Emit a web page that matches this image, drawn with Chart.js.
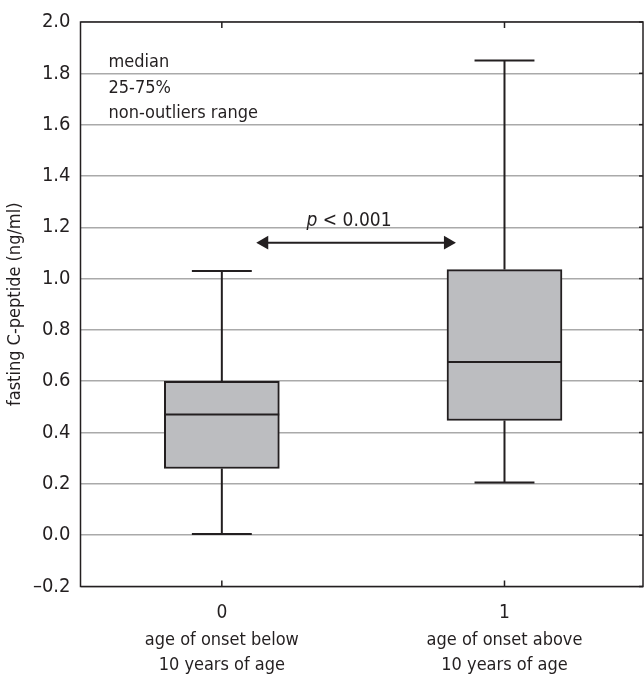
<!DOCTYPE html>
<html>
<head>
<meta charset="utf-8">
<script src="https://cdn.jsdelivr.net/npm/chart.js@4.4.1/dist/chart.umd.min.js"></script>
<style>
html, body { margin: 0; padding: 0; background: #fff; }
#wrap { width: 644px; height: 675px; position: relative; }
</style>
</head>
<body>
<div id="wrap"><canvas id="myChart"></canvas></div>
<script>
// data
var groups = [0, 1];
var groupNames = [['age of onset below', '10 years of age'], ['age of onset above', '10 years of age']];
var whiskerMin = [0.005, 0.205];
var q1 = [0.26, 0.447];
var median = [0.47, 0.675];
var q3 = [0.60, 1.035];
var whiskerMax = [1.03, 1.85];
var legendLines = ['median', '25-75%', 'non-outliers range'];
var pLabel = ['p', ' < 0.001'];
var pPos = {x: 0.45, y: 1.225};
var arrowX = [0.15, 0.8];
var arrowY = 1.14;

var dark = '#231f20';
var fontFam = "'Liberation Sans Narrow', 'Arial Narrow', 'DejaVu Sans Condensed', sans-serif";
Chart.defaults.font.family = fontFam;
Chart.defaults.color = dark;

var boxHalf = 0.203;
var capHalf = 0.106;

// build boxes / whiskers / medians from the arrays
var boxData = groups.map(function (g, i) { return {x: g, y: [q1[i], q3[i]]}; });
var whiskerData = [];
var medianData = [];
groups.forEach(function (g, i) {
    whiskerData.push({x: g, y: q3[i]}, {x: g, y: whiskerMax[i]}, {x: g, y: null});
    whiskerData.push({x: g - capHalf, y: whiskerMax[i]}, {x: g + capHalf, y: whiskerMax[i]}, {x: g, y: null});
    whiskerData.push({x: g, y: q1[i]}, {x: g, y: whiskerMin[i]}, {x: g, y: null});
    whiskerData.push({x: g - capHalf, y: whiskerMin[i]}, {x: g + capHalf, y: whiskerMin[i]}, {x: g, y: null});
    medianData.push({x: g - boxHalf, y: median[i]}, {x: g + boxHalf, y: median[i]}, {x: g, y: null});
});
var arrowData = [{x: arrowX[0], y: arrowY}, {x: arrowX[1], y: arrowY}];

var extras = {
    id: 'extras',
    afterDraw: function (chart) {
        var ctx = chart.ctx;
        var a = chart.chartArea;
        var xs = chart.scales.x;
        var ys = chart.scales.y;
        ctx.save();
        ctx.strokeStyle = dark;
        ctx.lineWidth = 1.5;
        ctx.strokeRect(a.left, a.top, a.right - a.left, a.bottom - a.top);
        // small ticks top/bottom
        groups.forEach(function (g) {
            var px = xs.getPixelForValue(g);
            ctx.beginPath();
            ctx.moveTo(px, a.top); ctx.lineTo(px, a.top + 6);
            ctx.moveTo(px, a.bottom); ctx.lineTo(px, a.bottom - 6);
            ctx.stroke();
        });
        // right ticks
        ys.ticks.forEach(function (t) {
            var py = ys.getPixelForValue(t.value);
            ctx.beginPath();
            ctx.moveTo(a.right - 4, py); ctx.lineTo(a.right, py);
            ctx.stroke();
        });
        ctx.fillStyle = dark;
        ctx.font = '18px ' + fontFam;
        ctx.textBaseline = 'middle';
        // legend text
        ctx.textAlign = 'left';
        legendLines.forEach(function (s, i) {
            ctx.fillText(s, a.left + 28, a.top + 40.5 + i * 25.5);
        });
        // group names
        ctx.textAlign = 'center';
        groups.forEach(function (g, i) {
            var px = xs.getPixelForValue(g);
            ctx.fillText(groupNames[i][0], px, a.bottom + 54);
            ctx.fillText(groupNames[i][1], px, a.bottom + 79);
        });
        // p value
        var cx = xs.getPixelForValue(pPos.x);
        var cy = ys.getPixelForValue(pPos.y);
        ctx.font = 'italic 19px ' + fontFam;
        var w1 = ctx.measureText(pLabel[0]).width;
        ctx.font = '19px ' + fontFam;
        var w2 = ctx.measureText(pLabel[1]).width;
        var x0 = cx - (w1 + w2) / 2;
        ctx.textAlign = 'left';
        ctx.font = 'italic 19px ' + fontFam;
        ctx.fillText(pLabel[0], x0, cy);
        ctx.font = '19px ' + fontFam;
        ctx.fillText(pLabel[1], x0 + w1, cy);
        ctx.restore();
    }
};

var myChart = new Chart('myChart', {
    type: 'bar',
    data: {
        datasets: [
            {
                type: 'line',
                data: medianData,
                borderColor: dark,
                borderWidth: 2,
                pointRadius: 0,
                spanGaps: false,
                order: 1
            },
            {
                type: 'line',
                data: whiskerData,
                borderColor: dark,
                borderWidth: 2,
                pointRadius: 0,
                spanGaps: false,
                order: 2
            },
            {
                type: 'line',
                data: arrowData,
                borderColor: dark,
                backgroundColor: dark,
                borderWidth: 2,
                pointStyle: 'triangle',
                pointRadius: 8,
                pointRotation: [270, 90],
                pointBorderWidth: 0,
                order: 1
            },
            {
                type: 'bar',
                data: boxData,
                backgroundColor: '#bcbdc0',
                borderColor: dark,
                borderWidth: 2,
                borderSkipped: false,
                barThickness: 115,
                order: 3
            }
        ]
    },
    options: {
        responsive: true,
        maintainAspectRatio: false,
        animation: false,
        layout: {autoPadding: false, padding: {top: 17.5, right: 1, left: 0, bottom: 0}},
        plugins: {legend: {display: false}, tooltip: {enabled: false}},
        scales: {
            x: {
                type: 'linear',
                min: -0.5,
                max: 1.49,
                offset: false,
                grid: {display: false},
                border: {display: false},
                ticks: {font: {size: 19}, padding: 7, color: dark},
                afterBuildTicks: function (scale) {
                    scale.ticks = groups.map(function (g) { return {value: g}; });
                },
                afterFit: function (scale) {
                    scale.height = 88.5;
                    scale.paddingLeft = 0;
                    scale.paddingRight = 0;
                }
            },
            y: {
                min: -0.2,
                max: 2.0,
                grid: {color: '#aaaaaa', lineWidth: 1.5, drawTicks: false},
                border: {display: false},
                ticks: {
                    stepSize: 0.2,
                    padding: 10,
                    font: {size: 20},
                    color: dark,
                    callback: function (v) {
                        var s = Math.abs(v).toFixed(1);
                        return v < -0.001 ? '\u2013' + s : s;
                    }
                },
                title: {display: true, text: 'fasting C-peptide (ng/ml)', font: {size: 18}, color: dark, padding: {top: 5, bottom: 0}},
                afterFit: function (scale) { scale.width = 80.5; }
            }
        }
    },
    plugins: [extras]
});
</script>
</body>
</html>
